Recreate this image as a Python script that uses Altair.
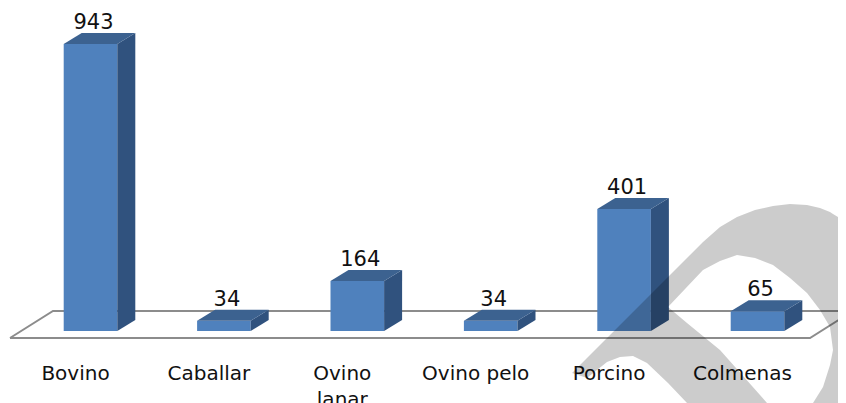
import altair as alt
import pandas as pd

categories = ["Bovino", "Caballar", "Ovino lanar", "Ovino pelo", "Porcino", "Colmenas"]
values = [943, 34, 164, 34, 401, 65]
axis_lines = ["Bovino", "Caballar", "Ovino", "lanar", "Ovino pelo", "Porcino", "Colmenas"]
axis_slots = [0, 1, 2, 2, 3, 4, 5]
axis_baseline = [380, 380, 380, 406, 380, 380, 380]

W, H = 830, 395
X_STEP = 133.4
X0 = 82.5
Y_K = 0.3044
def ux(p): return (p - 8 - X0) / X_STEP
def uy(p): return (331 - p) / Y_K

half = 26.8 / X_STEP
dx = 18 / X_STEP
dy = 11 / Y_K

x_scale = alt.Scale(domain=[ux(8), ux(8 + W)], nice=False, zero=False)
y_scale = alt.Scale(domain=[uy(8 + H), uy(8)], nice=False, zero=False)
X = lambda f: alt.X(f, type="quantitative", scale=x_scale, axis=None)
Y = lambda f: alt.Y(f, type="quantitative", scale=y_scale, axis=None)

rows = pd.DataFrame({"cat": categories, "v": values})
rows["i"] = range(len(rows))
rows["l"] = rows.i - half
rows["r"] = rows.i + half
rows["base"] = 0.0

floor_x = [10, 53, 853, 810, 10]
floor_y = [338, 311, 311, 338, 338]
floor = pd.DataFrame({"x": [ux(a) for a in floor_x], "y": [uy(b) for b in floor_y], "o": range(5)})
floor_l = alt.Chart(floor).mark_line(color="#8c8c8c", strokeWidth=2, clip=True).encode(
    x=X("x"), y=Y("y"), order="o:Q")

front = alt.Chart(rows).mark_rect(color="#4f81bd").encode(x=X("l"), x2="r", y=Y("base"), y2="v")

side_rows, top_rows = [], []
for i, v in zip(rows.i, values):
    r = i + half
    side_rows += [dict(i=i, x=r, y1=v, y2=0.0), dict(i=i, x=r + dx, y1=v + dy, y2=dy)]
    top_rows += [dict(i=i, y=v, x1=i - half, x2=r), dict(i=i, y=v + dy, x1=i - half + dx, x2=r + dx)]
side = alt.Chart(pd.DataFrame(side_rows)).mark_area(color="#30527e", orient="vertical").encode(
    x=X("x"), y=Y("y1"), y2="y2", detail="i:N")
top = alt.Chart(pd.DataFrame(top_rows)).mark_area(color="#3c6290", orient="horizontal").encode(
    y=Y("y"), x=X("x1"), x2="x2", detail="i:N")

font = "DejaVu Sans"
labels = alt.Chart(rows).mark_text(font=font, fontSize=21, baseline="alphabetic", color="#111111", dx=3, dy=-4).encode(
    x=X("i"), y=Y("lab_y:Q"), text="v:Q").transform_calculate(lab_y=f"datum.v + {dy}")

cat_rows = pd.DataFrame({"i": axis_slots, "t": axis_lines,
                         "y": [uy(p) for p in axis_baseline]})
cats = alt.Chart(cat_rows).mark_text(font=font, fontSize=20, baseline="alphabetic", color="#111111", dx=-15).encode(
    x=X("i"), y=Y("y"), text="t:N")

# Watermark ribbon
wm_pieces = [
    ([572, 587, 607, 620, 633, 647, 668], [373, 358, 338, 325, 312, 298, 277], [373, 378, 362, 357, 356, 363, 383]),
    ([668, 703, 720, 737, 755, 773, 790, 807, 820, 830, 833, 833.01, 846],
     [277, 242, 227, 217, 210, 206, 204, 205, 208, 212, 214, 214, 222],
     [307, 270, 261, 255, 258, 265, 278, 293, 310, 327, 350, 410, 410]),
    ([813, 823, 830, 833], [403, 387, 365, 350], [410, 410, 410, 410]),
    ([668, 687, 720, 767], [307, 323, 350, 403], [383, 403, 403, 403]),
]
wm_rows = []
for k, (xs, ts, bs) in enumerate(wm_pieces):
    for a, t, b in zip(xs, ts, bs):
        wm_rows.append(dict(k=k, x=ux(a), t=uy(t), b=uy(b)))
wm = alt.Chart(pd.DataFrame(wm_rows)).mark_area(color="#000000", opacity=0.2, clip=True, orient="vertical").encode(
    x=X("x"), y=Y("t"), y2="b", detail="k:N")

chart = alt.layer(floor_l, front, side, top, labels, cats, wm).properties(
    width=W, height=H, padding=0, autosize=alt.AutoSizeParams(type="none")
).configure_view(stroke=None)
chart.save("out.html", embed_options={"renderer": "svg", "actions": False})
